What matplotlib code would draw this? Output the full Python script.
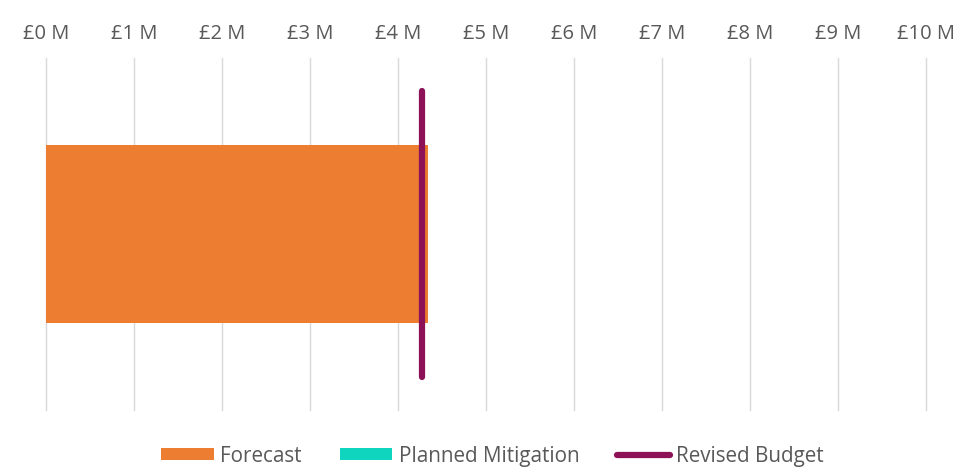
import matplotlib.pyplot as plt
from matplotlib.patches import Patch
from matplotlib.lines import Line2D

# values in £ millions
categories = ["Project"]
forecast = [4.34]
planned_mitigation = [0.0]
revised_budget = 4.27
xticks = list(range(0, 11))
xtick_labels = ["£%d M" % v for v in xticks]

orange = "#ED7D31"
teal = "#0FD4BE"
purple = "#8C1157"
grey_text = "#595959"

fig = plt.figure(figsize=(9.57, 4.73), dpi=100)
ax = fig.add_axes([46 / 957, 1 - 410 / 473, 880 / 957, 352 / 473])

ax.barh(categories, forecast, height=0.506, color=orange, zorder=2)
ax.barh(categories, planned_mitigation, left=forecast, height=0.506, color=teal, zorder=2)
ax.axvline(revised_budget, ymin=0.095, ymax=0.905, color=purple, lw=4.5,
           solid_capstyle="round", zorder=3)

ax.set_xlim(0, 10)
ax.set_ylim(-0.5, 0.5)
ax.set_xticks(xticks)
ax.set_xticklabels(xtick_labels, fontsize=14.5, color=grey_text, family="Open Sans")
ax.xaxis.tick_top()
ax.tick_params(axis="x", length=0, pad=10)
ax.set_yticks([])
ax.grid(axis="x", color="#D9D9D9", lw=1, zorder=0)
for gl in ax.get_xgridlines():
    gl.set_clip_on(False)
for s in ax.spines.values():
    s.set_visible(False)

handles = [
    Patch(facecolor=orange, label="Forecast"),
    Patch(facecolor=teal, label="Planned Mitigation"),
    Line2D([0], [0], color=purple, lw=4.5, solid_capstyle="round", label="Revised Budget"),
]
fig.legend(handles=handles, loc="center", bbox_to_anchor=(0.5146, 1 - 456 / 473), ncol=3,
           frameon=False, handlelength=2.55, handleheight=0.55,
           handletextpad=0.3, columnspacing=1.85, labelcolor=grey_text,
           prop={"family": "Open Sans", "size": 14.9})

fig.savefig("out.png", dpi=100)
